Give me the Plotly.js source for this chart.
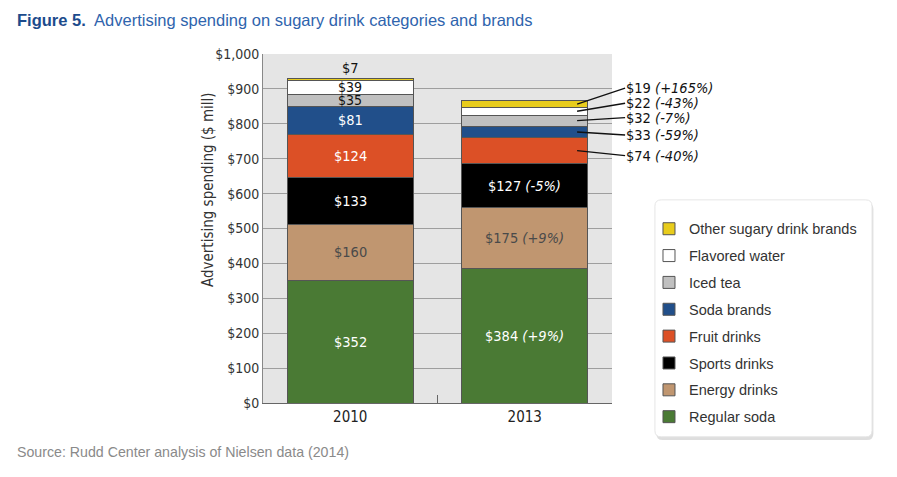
<!DOCTYPE html>
<html><head><meta charset="utf-8">
<script src="https://cdn.plot.ly/plotly-3.0.1.min.js"></script>
<style>html,body{margin:0;padding:0;background:#fff;}</style>
</head><body><div id="chart" style="width:897px;height:477px;"></div>
<script>
// ---- data ----
const years = ["2010", "2013"];
const categories = ["Regular soda", "Energy drinks", "Sports drinks", "Fruit drinks", "Soda brands", "Iced tea", "Flavored water", "Other sugary drink brands"];
const spend2010 = [352, 160, 133, 124, 81, 35, 39, 7];
const spend2013 = [384, 175, 127, 74, 33, 32, 22, 19];
const change2013 = ["+9%", "+9%", "-5%", "-40%", "-59%", "-7%", "-43%", "+165%"];

// ---- styles ----
const colors = ["#4a7a34", "#c09670", "#000000", "#dc5026", "#214f8a", "#c0c0c0", "#ffffff", "#e8cc1c"];
const labelColors = ["#ffffff", "#4a4a4a", "#ffffff", "#ffffff", "#ffffff", "#111111", "#111111", "#111111"];
const NARROW = "'Liberation Sans Narrow', 'Arial Narrow', 'DejaVu Sans Condensed', sans-serif";
const SANS = "'Liberation Sans', Arial, Helvetica, sans-serif";
const leaderOffsets = [null, null, null, 5, 3, -3, -8, -16]; // pixel offsets for 2013 leader labels

const traces = categories.map((c, i) => ({
  type: "bar",
  name: c,
  legendgroup: c,
  legendrank: categories.length - i,
  x: years,
  y: [spend2010[i], spend2013[i]],
  width: 0.72,
  marker: {color: colors[i], line: {color: "#555", width: 1}},
  hoverinfo: "x+y+name"
}));

const annotations = [];
let base10 = 0, base13 = 0;
categories.forEach((c, i) => {
  const v10 = spend2010[i], v13 = spend2013[i];
  // 2010 labels (x index 0)
  if (i < categories.length - 1) {
    annotations.push({x: 0, y: base10 + v10 / 2, text: "$" + v10, showarrow: false,
      font: {family: NARROW, size: i >= 5 ? 14 : 14.5, color: labelColors[i]}, xanchor: "center", yanchor: "middle"});
  } else {
    annotations.push({x: 0, y: base10 + v10, text: "$" + v10, showarrow: false,
      font: {family: NARROW, size: 14.5, color: "#111"}, xanchor: "center", yanchor: "bottom"});
  }
  // 2013 labels (x index 1)
  const txt = "$" + v13 + " <i>(" + change2013[i] + ")</i>";
  if (i < 3) {
    annotations.push({x: 1, y: base13 + v13 / 2, text: txt, showarrow: false,
      font: {family: NARROW, size: 14.5, color: labelColors[i]}, xanchor: "center", yanchor: "middle"});
  } else {
    annotations.push({x: 1.3, y: base13 + v13 / 2, text: txt, showarrow: true,
      arrowhead: 0, arrowwidth: 1.3, arrowcolor: "#111", axref: "pixel", ayref: "pixel",
      ax: 48, ay: leaderOffsets[i], xanchor: "left", yanchor: "middle", borderpad: 0,
      font: {family: NARROW, size: 14.5, color: "#111"}});
  }
  base10 += v10; base13 += v13;
});

// y-axis title (placed as in the reference, above the plot's centre)
annotations.push({xref: "paper", yref: "paper", x: (208 - 263) / 349, y: (403 - 190) / 349,
  xanchor: "center", yanchor: "middle", textangle: -90, showarrow: false,
  text: "Advertising spending ($ mill)", font: {family: NARROW, size: 15, color: "#333"}});

annotations.push({xref: "paper", yref: "paper", x: (15 - 263) / 349, y: -0.14, xanchor: "left", yanchor: "middle",
  showarrow: false, text: "Source: Rudd Center analysis of Nielsen data (2014)",
  font: {family: SANS, size: 14.2, color: "#8a8a8a"}});

// legend frame (rounded, with shadow)
function rounded(x0, y0, x1, y1, r) {
  return `M${x0 + r},${y1} L${x1 - r},${y1} Q${x1},${y1} ${x1},${y1 - r} L${x1},${y0 + r} Q${x1},${y0} ${x1 - r},${y0} L${x0 + r},${y0} Q${x0},${y0} ${x0},${y0 + r} L${x0},${y1 - r} Q${x0},${y1} ${x0 + r},${y1} Z`;
}
const lx0 = 1.123, lx1 = 1.745, ly0 = -0.097, ly1 = 0.582;
const shapes = [
  {type: "path", xref: "paper", yref: "paper", path: rounded(lx0 + 0.004, ly0 - 0.009, lx1 + 0.004, ly1 - 0.009, 0.018),
   fillcolor: "rgba(0,0,0,0.13)", line: {width: 0}},
  {type: "path", xref: "paper", yref: "paper", path: rounded(lx0, ly0, lx1, ly1, 0.018),
   fillcolor: "#ffffff", line: {color: "#e6e6e6", width: 1}}
];

const layout = {
  width: 897, height: 477,
  margin: {l: 263, r: 285, t: 54, b: 74},
  paper_bgcolor: "#ffffff",
  plot_bgcolor: "#e5e5e5",
  barmode: "stack",
  showlegend: true,
  title: {
    text: "<b><span style='color:#1c4b8c'>Figure 5.</span></b>&nbsp; Advertising spending on sugary drink categories and brands",
    x: 17 / 897, xref: "container", xanchor: "left",
    y: 1 - 20 / 477, yref: "container", yanchor: "middle",
    font: {family: SANS, size: 16.5, color: "#2f64ad"}
  },
  xaxis: {
    type: "category", range: [-0.5, 1.5],
    showline: true, linecolor: "#666", linewidth: 1,
    ticks: "inside", tickson: "boundaries", ticklen: 8, tickcolor: "#666",
    showgrid: false, zeroline: false,
    tickfont: {family: NARROW, size: 15, color: "#222"}
  },
  yaxis: {
    range: [0, 1000], dtick: 100, tickprefix: "$", tickformat: ",d",
    showgrid: true, gridcolor: "#9e9e9e", gridwidth: 1,
    showline: true, linecolor: "#888", zeroline: false,
    ticks: "", tickfont: {family: NARROW, size: 14, color: "#333"}
  },
  legend: {
    x: 1.106, xanchor: "left", y: 0.545, yanchor: "top",
    bgcolor: "rgba(0,0,0,0)", borderwidth: 0,
    traceorder: "grouped", tracegroupgap: 5,
    font: {family: SANS, size: 14.5, color: "#333"}
  },
  annotations: annotations,
  shapes: shapes
};

Plotly.newPlot("chart", traces, layout, {displayModeBar: false, staticPlot: true});
</script></body></html>
